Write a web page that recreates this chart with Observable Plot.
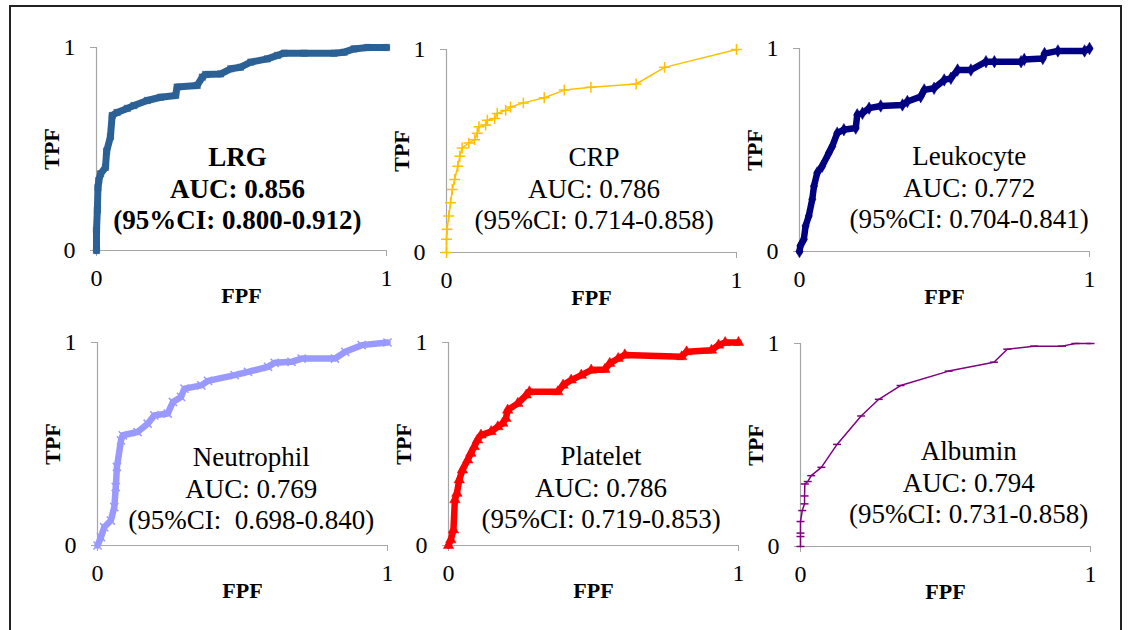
<!DOCTYPE html>
<html><head><meta charset="utf-8">
<script src="https://cdn.jsdelivr.net/npm/d3@7"></script>
<script src="https://cdn.jsdelivr.net/npm/@observablehq/plot@0.6"></script>
<style>
html,body{margin:0;padding:0;background:#fff;overflow:hidden;width:1130px;height:630px}
#frame{position:absolute;left:9px;top:5px;width:1113px;height:640px;border:2px solid #222;box-sizing:border-box}
.panel{position:absolute}
.panel text, .panel tspan{font-family:"Liberation Serif","Times New Roman",Times,serif !important}
</style></head><body>
<div id="frame"></div>
<div id="root"></div>
<script>
// ---------- data ----------
const markerNames = ["LRG", "CRP", "Leukocyte", "Neutrophil", "Platelet", "Albumin"];
const aucLabels = ["AUC: 0.856", "AUC: 0.786", "AUC: 0.772", "AUC: 0.769", "AUC: 0.786", "AUC: 0.794"];
const ciLabels = ["(95%CI: 0.800-0.912)", "(95%CI: 0.714-0.858)", "(95%CI: 0.704-0.841)",
                  "(95%CI:  0.698-0.840)", "(95%CI: 0.719-0.853)", "(95%CI: 0.731-0.858)"];
const tickValues = [0, 1];
const xAxisTitle = "FPF";
const yAxisTitle = "TPF";

// [FPF, TPF]
const lrgRoc = [[0,0],[0,0.1],[0.003,0.2],[0.005,0.31],[0.008,0.345],[0.014,0.378],[0.031,0.41],[0.035,0.49],
  [0.048,0.56],[0.054,0.665],[0.071,0.68],[0.106,0.70],[0.129,0.714],[0.175,0.739],[0.221,0.755],[0.273,0.764],
  [0.278,0.805],[0.347,0.813],[0.365,0.854],[0.376,0.867],[0.428,0.870],[0.463,0.895],[0.497,0.903],[0.532,0.928],
  [0.589,0.944],[0.624,0.961],[0.647,0.972],[0.716,0.972],[0.819,0.972],[0.854,0.977],[0.888,0.993],[0.934,1],[1,1]];
const crpRoc = [[0,0],[0,0.065],[0.002,0.114],[0.008,0.18],[0.014,0.245],[0.020,0.31],[0.028,0.36],[0.039,0.425],
  [0.046,0.474],[0.054,0.515],[0.077,0.539],[0.097,0.556],[0.106,0.588],[0.112,0.62],[0.135,0.628],[0.141,0.652],
  [0.166,0.66],[0.175,0.685],[0.204,0.70],[0.221,0.717],[0.265,0.737],[0.337,0.762],[0.406,0.80],[0.498,0.814],
  [0.654,0.83],[0.752,0.912],[1,1]];
const leukocyteRoc = [[0,0],[0.003,0.028],[0.015,0.06],[0.021,0.126],[0.032,0.175],[0.044,0.257],[0.050,0.322],
  [0.061,0.387],[0.078,0.42],[0.101,0.485],[0.113,0.518],[0.130,0.583],[0.153,0.60],[0.194,0.608],[0.199,0.673],
  [0.217,0.681],[0.240,0.706],[0.280,0.717],[0.355,0.722],[0.372,0.739],[0.418,0.763],[0.430,0.796],[0.464,0.804],
  [0.499,0.845],[0.522,0.853],[0.545,0.894],[0.591,0.894],[0.643,0.935],[0.672,0.935],[0.764,0.935],[0.775,0.946],
  [0.839,0.951],[0.845,0.975],[0.891,0.988],[0.983,0.988],[1,1]];
const neutrophilRoc = [[0,0],[0.012,0.041],[0.023,0.09],[0.046,0.123],[0.058,0.189],[0.063,0.288],[0.067,0.387],
  [0.081,0.518],[0.087,0.543],[0.138,0.559],[0.173,0.60],[0.196,0.641],[0.242,0.65],[0.260,0.707],[0.288,0.732],
  [0.300,0.773],[0.358,0.789],[0.381,0.811],[0.473,0.839],[0.519,0.855],[0.588,0.88],[0.611,0.90],[0.669,0.905],
  [0.704,0.921],[0.819,0.921],[0.854,0.954],[0.911,0.987],[1,1]];
const plateletRoc = [[0,0],[0.008,0.028],[0.017,0.077],[0.022,0.225],[0.029,0.257],[0.037,0.323],[0.048,0.372],
  [0.066,0.421],[0.077,0.454],[0.089,0.487],[0.100,0.52],[0.112,0.544],[0.147,0.561],[0.170,0.585],[0.187,0.602],
  [0.198,0.626],[0.204,0.667],[0.239,0.70],[0.268,0.741],[0.279,0.757],[0.377,0.757],[0.395,0.79],[0.423,0.815],
  [0.458,0.839],[0.492,0.864],[0.539,0.867],[0.556,0.897],[0.585,0.921],[0.608,0.939],[0.804,0.93],[0.821,0.954],
  [0.907,0.962],[0.931,0.987],[0.954,1],[1,1]];
const albuminRoc = [[0,0],[0,0.049],[0,0.066],[0,0.123],[0.006,0.177],[0.014,0.21],[0.014,0.249],[0.015,0.308],
  [0.025,0.32],[0.037,0.349],[0.072,0.39],[0.126,0.503],[0.209,0.643],[0.270,0.725],[0.345,0.793],[0.511,0.864],
  [0.667,0.908],[0.713,0.972],[0.805,0.987],[0.902,0.987],[0.948,1],[1,1]];

// ---------- drawing ----------
const serif = "'Liberation Serif','Times New Roman',Times,serif";
const dash = {draw(ctx, size) { const r = Math.sqrt(size) / 1.6; ctx.moveTo(-r, 0); ctx.lineTo(r, 0); }};
const panels = [
  {data: lrgRoc, color: "#2C6196", lw: 7, symbol: "square", r: 3.6, filled: true, left: 36, top: 27, tx: 0.486, ty: 0.31, bold: true},
  {data: crpRoc, color: "#FFC000", lw: 1.5, symbol: "plus", r: 3.6, filled: false, left: 386, top: 29, tx: 0.509, ty: 0.32},
  {data: leukocyteRoc, color: "#000080", lw: 6.5, symbol: "diamond", r: 3.8, filled: true, left: 739, top: 28, tx: 0.585, ty: 0.32},
  {data: neutrophilRoc, color: "#9999FF", lw: 6.5, symbol: "times", r: 3.8, filled: false, left: 37, top: 322, tx: 0.53, ty: 0.286},
  {data: plateletRoc, color: "#FF0000", lw: 6.5, symbol: "triangle", r: 3.9, filled: true, left: 388, top: 322, tx: 0.526, ty: 0.29},
  {data: albuminRoc, color: "#800080", lw: 1.5, symbol: dash, r: 3.6, filled: false, left: 740, top: 323, tx: 0.58, ty: 0.32}
];

const ML = 60, MT = 20, MR = 20, MB = 60, W = 290, H = 203;
const axisGray = "#A6A6A6";
const root = document.getElementById("root");

panels.forEach((p, i) => {
  const label = [markerNames[i] + "\n" + aucLabels[i] + "\n" + ciLabels[i]];
  const chart = Plot.plot({
    width: W + ML + MR, height: H + MT + MB,
    marginLeft: ML, marginTop: MT, marginRight: MR, marginBottom: MB,
    style: {fontFamily: serif, background: "transparent", overflow: "visible", color: "#000"},
    x: {domain: [0, 1]},
    y: {domain: [0, 1]},
    marks: [
      Plot.axisX({ticks: tickValues, tickSize: 6, tickPadding: 12, stroke: axisGray, fill: "#000", fontSize: 24, fontFamily: serif, label: null, tickFormat: d => String(d)}),
      Plot.axisY({ticks: tickValues, tickSize: 6, tickPadding: 15, stroke: axisGray, fill: "#000", fontSize: 24, fontFamily: serif, label: null, tickFormat: d => String(d)}),
      Plot.ruleY([0], {stroke: axisGray, strokeWidth: 1.2}),
      Plot.ruleX([0], {stroke: axisGray, strokeWidth: 1.2}),
      Plot.line(p.data, {x: d => d[0], y: d => d[1], stroke: p.color, strokeWidth: p.lw, strokeLinejoin: "round"}),
      Plot.dot(p.data, {x: d => d[0], y: d => d[1], symbol: () => p.symbol, r: p.r,
        fill: p.filled ? p.color : "none", stroke: p.color, strokeWidth: p.filled ? 0.5 : 1.5}),
      Plot.text(label, {x: () => p.tx, y: () => p.ty, text: d => d, fontSize: 27, lineHeight: 1.17, fontFamily: serif,
        lineAnchor: "middle", textAnchor: "middle", fill: "#000", fontWeight: p.bold ? "bold" : "normal"}),
      Plot.text([yAxisTitle], {frameAnchor: "left", dx: -45, rotate: -90, textAnchor: "middle", lineAnchor: "middle",
        fontWeight: "bold", fontSize: 22, fontFamily: serif, fill: "#000"}),
      Plot.text([xAxisTitle], {frameAnchor: "bottom", dy: 45, textAnchor: "middle", lineAnchor: "middle",
        fontWeight: "bold", fontSize: 22, fontFamily: serif, fill: "#000"})
    ]
  });
  chart.classList.add("panel");
  chart.style.left = p.left + "px";
  chart.style.top = p.top + "px";
  chart.style.position = "absolute";
  root.appendChild(chart);
});
</script>
</body></html>
